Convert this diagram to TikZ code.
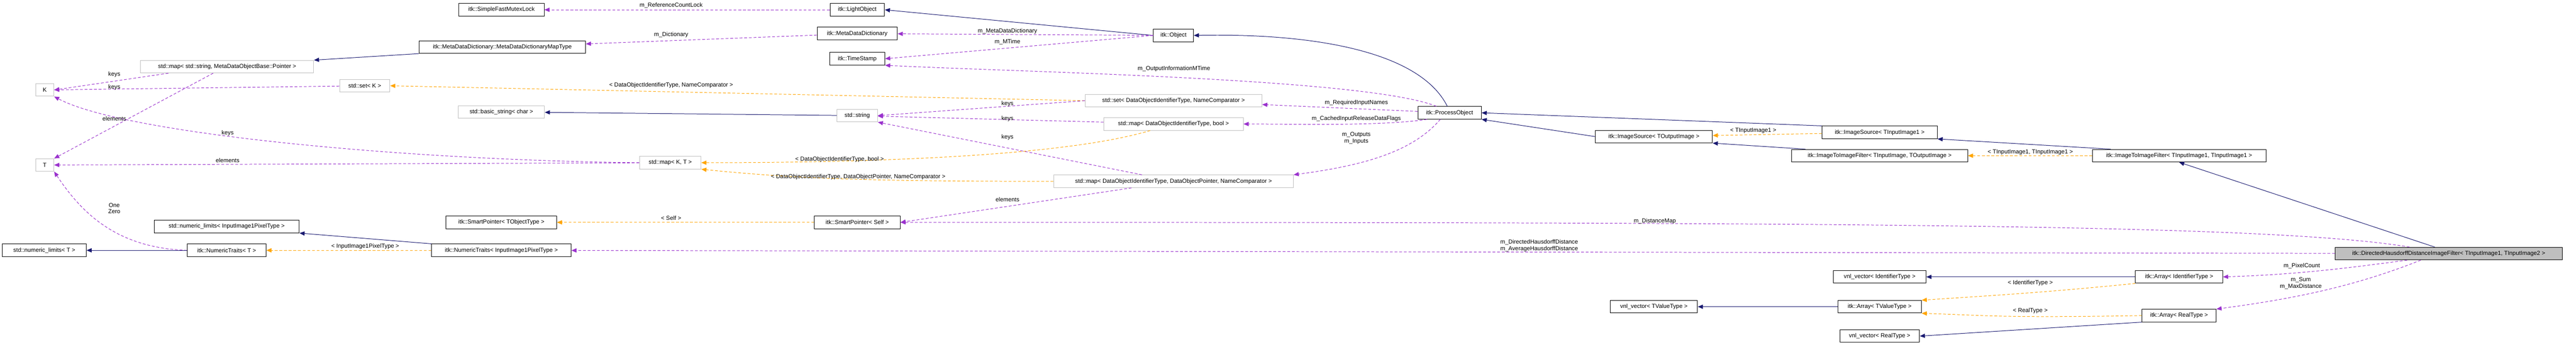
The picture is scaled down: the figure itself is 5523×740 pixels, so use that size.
\documentclass[tikz,border=0pt]{standalone}
\usepackage{fontspec}
\setmainfont{Liberation Sans}
\usetikzlibrary{arrows.meta}
\definecolor{inh}{HTML}{191970}
\definecolor{use}{HTML}{9A32CD}
\definecolor{tpl}{HTML}{FFA500}
\begin{document}
\begin{tikzpicture}[x=1pt,y=-1pt,
  every node/.style={font=\fontsize{12.5}{14}\selectfont, inner sep=1pt},
  box/.style={draw=black, line width=1.1pt, fill=white, minimum height=27pt, inner sep=2pt},
  gbox/.style={box, draw=black!25},
  hbox/.style={box, fill=black!25},
  inhl/.style={draw=inh, line width=1.1pt, -{Triangle[length=11pt,width=9pt]}},
  usel/.style={draw=use, line width=1.1pt, dash pattern=on 6pt off 4pt, -{Triangle[length=11pt,width=9pt]}},
  tpll/.style={draw=tpl, line width=1.1pt, dash pattern=on 6pt off 4pt, -{Triangle[length=11pt,width=9pt]}},
  lbl/.style={fill=none, align=center}]
\useasboundingbox (0,0) rectangle (5523,740);
% nodes
\node[gbox, minimum width=39] (K) at (96,193) {K};
\node[gbox, minimum width=39] (T) at (96,354) {T};
\node[gbox, minimum width=371] (mapstr) at (487,143) {std::map< std::string, MetaDataObjectBase::Pointer >};
\node[gbox, minimum width=108] (setK) at (782,184) {std::set< K >};
\node[box, minimum width=311] (nlIIPT) at (486,486) {std::numeric\_limits< InputImage1PixelType >};
\node[box, minimum width=180] (nlT) at (95,537) {std::numeric\_limits< T >};
\node[box, minimum width=169] (ntT) at (486,537) {itk::NumericTraits< T >};
\node[box, minimum width=183] (mutex) at (1075,21) {itk::SimpleFastMutexLock};
\node[box, minimum width=357] (maptype) at (1077,101) {itk::MetaDataDictionary::MetaDataDictionaryMapType};
\node[gbox, minimum width=185] (bstr) at (1075,240) {std::basic\_string< char >};
\node[gbox, minimum width=132] (mapKT) at (1437,349) {std::map< K, T >};
\node[box, minimum width=237] (spTO) at (1075,477) {itk::SmartPointer< TObjectType >};
\node[box, minimum width=299] (ntIIPT) at (1075,537) {itk::NumericTraits< InputImage1PixelType >};
\node[box, minimum width=117] (light) at (1838,21) {itk::LightObject};
\node[box, minimum width=172] (mdd) at (1838,72) {itk::MetaDataDictionary};
\node[box, minimum width=118] (ts) at (1838,126) {itk::TimeStamp};
\node[gbox, minimum width=87] (str) at (1838,248) {std::string};
\node[box, minimum width=184] (spSelf) at (1838,477) {itk::SmartPointer< Self >};
\node[box, minimum width=86] (obj) at (2516,76) {itk::Object};
\node[gbox, minimum width=379] (setD) at (2516,216) {std::set< DataObjectIdentifierType, NameComparator >};
\node[gbox, minimum width=299] (mapB) at (2516,266) {std::map< DataObjectIdentifierType, bool >};
\node[gbox, minimum width=514] (mapP) at (2516,389) {std::map< DataObjectIdentifierType, DataObjectPointer, NameComparator >};
\node[box, minimum width=136] (po) at (3108,242) {itk::ProcessObject};
\node[box, minimum width=251] (isTO) at (3546,293) {itk::ImageSource< TOutputImage >};
\node[box, minimum width=187] (vnlTV) at (3546,658) {vnl\_vector< TValueType >};
\node[box, minimum width=247] (isTI) at (4030,284) {itk::ImageSource< TInputImage1 >};
\node[box, minimum width=377] (iiTO) at (4030,334) {itk::ImageToImageFilter< TInputImage, TOutputImage >};
\node[box, minimum width=372] (iiTI) at (4672,334) {itk::ImageToImageFilter< TInputImage1, TInputImage1 >};
\node[box, minimum width=199] (vnlID) at (4030,594) {vnl\_vector< IdentifierType >};
\node[box, minimum width=179] (arrTV) at (4030,658) {itk::Array< TValueType >};
\node[box, minimum width=171] (vnlR) at (4030,721) {vnl\_vector< RealType >};
\node[hbox, minimum width=487] (dh) at (5250,544) {itk::DirectedHausdorffDistanceImageFilter< TInputImage1, TInputImage2 >};
\node[box, minimum width=187] (arrID) at (4672,594) {itk::Array< IdentifierType >};
\node[box, minimum width=159] (arrR) at (4672,677) {itk::Array< RealType >};
% edges
\draw[usel] (light) -- (mutex);
\draw[usel] (mdd) -- (maptype);
\draw[inhl] (maptype.south west) -- (mapstr.north east);
\draw[usel] (mapstr.south west) ++(60,0) -- (K.east);
\draw[usel] (mapstr.south) ++(-30,0) -- (T.north east);
\draw[usel] (setK) -- (K);
\draw[usel] (mapKT.west) .. controls +(-500,-5) and +(150,80) .. (K.south east);
\draw[usel] (mapKT) -- (T);
\draw[usel] (ntT.west) .. controls +(-150,-5) and +(60,90) .. (T.south east);
\draw[inhl] (ntT) -- (nlT);
\draw[inhl] (ntIIPT.north west) -- (nlIIPT.south east);
\draw[tpll] (ntIIPT) -- (ntT);
\draw[inhl] (obj.west) -- (light.east);
\draw[usel] (obj) -- (mdd);
\draw[usel] (obj.west) -- (ts.east);
\draw[usel] (po.north west) ++(40,0) .. controls +(-150,-60) and +(300,15) .. (ts.south east);
\draw[tpll] (setD.west) -- (setK.east);
\draw[usel] (setD.west) -- (str.east);
\draw[usel] (mapB) -- (str);
\draw[usel] (mapP.north west) ++(190,0) -- (str.south east);
\draw[tpll] (mapB.south west) ++(100,0) .. controls +(-200,60) and +(300,0) .. (mapKT.east);
\draw[tpll] (mapP.west) .. controls +(-400,0) and +(200,20) .. (mapKT.south east);
\draw[usel] (mapP.south) ++(-90,0) -- (spSelf.east);
\draw[tpll] (spSelf) -- (spTO);
\draw[inhl] (str) -- (bstr);
\draw[inhl] (po.north) ++(-5,0) .. controls +(-60,-120) and +(250,-5) .. (obj.east);
\draw[usel] (po) -- (setD);
\draw[usel] (po.south west) ++(20,0) .. controls +(-100,15) and +(100,0) .. (mapB.east);
\draw[usel] (po.south) ++(-20,0) .. controls +(-60,70) and +(150,-20) .. (mapP.north east);
\draw[inhl] (isTO.west) -- (po.south east);
\draw[inhl] (isTI.north west) -- (po.east);
\draw[tpll] (isTI) -- (isTO);
\draw[inhl] (iiTO.north west) ++(30,0) -- (isTO.south east);
\draw[inhl] (iiTI.north west) ++(40,0) -- (isTI.south east);
\draw[tpll] (iiTI) -- (iiTO);
\draw[inhl] (dh.north) ++(-30,0) -- (iiTI.south);
\draw[usel] (dh.north west) ++(160,0) .. controls +(-300,-50) and +(2000,0) .. (spSelf.east);
\draw[usel] (dh) -- (ntIIPT);
\draw[usel] (dh.south west) ++(155,0) .. controls +(-150,20) and +(150,-5) .. (arrID.east);
\draw[usel] (dh.south) ++(-60,0) .. controls +(-150,60) and +(150,-20) .. (arrR.north east);
\draw[inhl] (arrID) -- (vnlID);
\draw[tpll] (arrID.south west) .. controls +(-200,20) and +(150,-10) .. (arrTV.north east);
\draw[tpll] (arrR.west) .. controls +(-300,5) and +(150,5) .. (arrTV.south east);
\draw[inhl] (arrR.south west) -- (vnlR.east);
\draw[inhl] (arrTV) -- (vnlTV);
% labels
\node[lbl] (l1) at (1439,12) {m\_ReferenceCountLock};
\node[lbl] (l2) at (1439,75) {m\_Dictionary};
\node[lbl] (l3) at (245,160) {keys};
\node[lbl] (l4) at (245,187) {keys};
\node[lbl] (l5) at (245,255) {elements};
\node[lbl] (l6) at (488,286) {keys};
\node[lbl] (l7) at (488,344) {elements};
\node[lbl] (l8) at (245,447) {One\\Zero};
\node[lbl] (l9) at (783,529) {< InputImage1PixelType >};
\node[lbl] (l10) at (1439,183) {< DataObjectIdentifierType, NameComparator >};
\node[lbl] (l11) at (1439,468) {< Self >};
\node[lbl] (l12) at (1800,342) {< DataObjectIdentifierType, bool >};
\node[lbl] (l13) at (1840,379) {< DataObjectIdentifierType, DataObjectPointer, NameComparator >};
\node[lbl] (l14) at (2160,67) {m\_MetaDataDictionary};
\node[lbl] (l15) at (2160,90) {m\_MTime};
\node[lbl] (l16) at (2517,148) {m\_OutputInformationMTime};
\node[lbl] (l17) at (2160,223) {keys};
\node[lbl] (l18) at (2160,255) {keys};
\node[lbl] (l19) at (2160,295) {keys};
\node[lbl] (l20) at (2160,428) {elements};
\node[lbl] (l21) at (2908,220) {m\_RequiredInputNames};
\node[lbl] (l22) at (2908,255) {m\_CachedInputReleaseDataFlags};
\node[lbl] (l23) at (2908,296) {m\_Outputs\\m\_Inputs};
\node[lbl] (l24) at (3548,475) {m\_DistanceMap};
\node[lbl] (l25) at (3300,527) {m\_DirectedHausdorffDistance\\m\_AverageHausdorffDistance};
\node[lbl] (l26) at (3759,280) {< TInputImage1 >};
\node[lbl] (l27) at (4353,327) {< TInputImage1, TInputImage1 >};
\node[lbl] (l28) at (4353,607) {< IdentifierType >};
\node[lbl] (l29) at (4353,667) {< RealType >};
\node[lbl] (l30) at (4935,571) {m\_PixelCount};
\node[lbl] (l31) at (4933,608) {m\_Sum\\m\_MaxDistance};
\end{tikzpicture}
\end{document}
